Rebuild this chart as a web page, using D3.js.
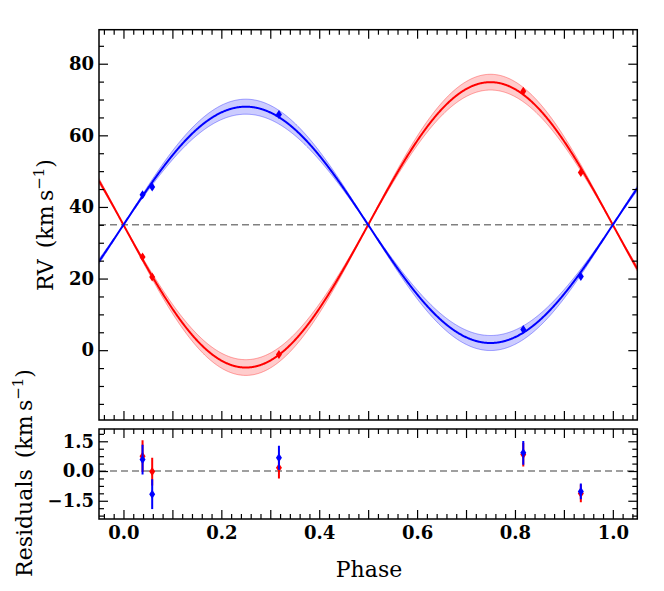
<!DOCTYPE html>
<html><head><meta charset="utf-8">
<script src="https://cdn.jsdelivr.net/npm/d3@7"></script>
<style>body{margin:0;background:#fff}</style>
</head><body>
<svg id="c" width="664" height="591" xmlns="http://www.w3.org/2000/svg"></svg>
<script>
// ---- data ----
const phase   = [0.039, 0.0587, 0.3177, 0.817, 0.9346];
const rvRed   = [26.0, 20.45, -1.2, 72.3, 49.6];
const errRed  = [0.8, 0.7, 0.55, 0.6, 0.45];
const rvBlue  = [43.4, 45.6, 65.8, 5.8, 20.6];
const errBlue = [0.75, 0.75, 0.6, 0.6, 0.4];
const resRed  = [0.75, -0.03, 0.17, 0.83, -1.13];
const resBlue = [0.58, -1.17, 0.67, 0.92, -1.03];
const gamma = 35.0;
const kRed  = [39.85, 2.2];   // semi-amplitude, uncertainty
const kBlue = [33.0, 2.1];
const xTickVals = [0, 0.1, 0.2, 0.3, 0.4, 0.5, 0.6, 0.7, 0.8, 0.9, 1.0];
const rvTickVals = [0, 20, 40, 60, 80];
const resTickVals = [-1.5, 0, 1.5];

// ---- layout ----
const svg = d3.select("#c");
const L = 99, R = 637.3, T1 = 29.7, B1 = 420, T2 = 429, B2 = 519;
const x = d3.scaleLinear().domain([-0.05, 1.05]).range([L, R]);
const y = d3.scaleLinear().domain([-19.5, 89.5]).range([B1, T1]);
const yr = d3.scaleLinear().domain([-2.42, 2.12]).range([B2, T2]);
const RED = "#ff0000", BLUE = "#0000ff";
const tickFont = "DejaVu Serif";

svg.append("defs").html(
  `<clipPath id="cp1"><rect x="${L}" y="${T1}" width="${R-L}" height="${B1-T1}"/></clipPath>
   <clipPath id="cp2"><rect x="${L}" y="${T2}" width="${R-L}" height="${B2-T2}"/></clipPath>`);

const ph = d3.range(0, 1101).map(i => -0.05 + i * 0.001);
const s = p => Math.sin(2 * Math.PI * p);

const gTop = svg.append("g").attr("clip-path", "url(#cp1)");
// dashed systemic line
gTop.append("line").attr("x1", L).attr("x2", R).attr("y1", y(gamma)).attr("y2", y(gamma))
  .attr("stroke", "#808080").attr("stroke-width", 1.5).attr("stroke-dasharray", "7,4");

function drawModel(sign, k, col) {
  const lo = p => gamma + sign * (k[0] - k[1]) * s(p);
  const hi = p => gamma + sign * (k[0] + k[1]) * s(p);
  gTop.append("path").datum(ph)
    .attr("d", d3.area().x(p => x(p)).y0(p => y(lo(p))).y1(p => y(hi(p))))
    .attr("fill", col).attr("fill-opacity", 0.2).attr("stroke", "none");
  [lo, hi].forEach(f => gTop.append("path").datum(ph)
    .attr("d", d3.line().x(p => x(p)).y(p => y(f(p))))
    .attr("fill", "none").attr("stroke", col).attr("stroke-opacity", 0.35).attr("stroke-width", 1));
  gTop.append("path").datum(ph)
    .attr("d", d3.line().x(p => x(p)).y(p => y(gamma + sign * k[0] * s(p))))
    .attr("fill", "none").attr("stroke", col).attr("stroke-width", 2);
}
drawModel(-1, kRed, RED);
drawModel(1, kBlue, BLUE);

const diamond = "M0,-4.5L3,0L0,4.5L-3,0Z";
function drawPoints(g, ys, errs, yscale, col) {
  phase.forEach((p, i) => {
    g.append("line").attr("x1", x(p)).attr("x2", x(p))
      .attr("y1", yscale(ys[i] - errs[i])).attr("y2", yscale(ys[i] + errs[i]))
      .attr("stroke", col).attr("stroke-width", 2);
    g.append("path").attr("d", diamond)
      .attr("transform", `translate(${x(p)},${yscale(ys[i])})`).attr("fill", col);
  });
}
drawPoints(gTop, rvRed, errRed, y, RED);
drawPoints(gTop, rvBlue, errBlue, y, BLUE);

// residual panel
const gBot = svg.append("g").attr("clip-path", "url(#cp2)");
gBot.append("line").attr("x1", L).attr("x2", R).attr("y1", yr(0)).attr("y2", yr(0))
  .attr("stroke", "#808080").attr("stroke-width", 1.5).attr("stroke-dasharray", "7,4");
drawPoints(gBot, resRed, errRed, yr, RED);
drawPoints(gBot, resBlue, errBlue, yr, BLUE);

// ---- axes ----
const xMinor = d3.range(-2, 53).filter(i => i % 5 !== 0).map(i => i * 0.02);
const yMinor = d3.range(-3, 18).filter(i => i % 4 !== 0).map(i => i * 5);
const rMinor = d3.range(-6, 6).filter(i => i % 4 !== 0).map(i => i * 0.375);
const fx = (d, i) => (i % 2 === 0 ? d3.format(".1f")(d) : "");

function ax(gen, tx, ty, vals, len, fmt, pad) {
  const g = svg.append("g").attr("transform", `translate(${tx},${ty})`)
    .call(gen.tickValues(vals).tickSize(-len).tickPadding(pad || 6).tickFormat(fmt || (() => "")));
  g.select(".domain").remove();
  g.selectAll("line").attr("stroke", "#000").attr("stroke-width", 1.2);
  g.selectAll("text").attr("font-family", tickFont).attr("font-weight", "bold")
    .attr("font-size", 18).attr("fill", "#000");
  return g;
}
// top panel
ax(d3.axisBottom(x), 0, B1, xTickVals, 9);
ax(d3.axisBottom(x), 0, B1, xMinor, 5);
ax(d3.axisTop(x), 0, T1, xTickVals, 9);
ax(d3.axisTop(x), 0, T1, xMinor, 5);
ax(d3.axisLeft(y), L, 0, rvTickVals, 9, d3.format("d"), 5);
ax(d3.axisLeft(y), L, 0, yMinor, 5);
ax(d3.axisRight(y), R, 0, rvTickVals, 9);
ax(d3.axisRight(y), R, 0, yMinor, 5);
// bottom panel
ax(d3.axisBottom(x), 0, B2, xTickVals, 9, fx, 7);
ax(d3.axisBottom(x), 0, B2, xMinor, 5);
ax(d3.axisTop(x), 0, T2, xTickVals, 9);
ax(d3.axisTop(x), 0, T2, xMinor, 5);
ax(d3.axisLeft(yr), L, 0, resTickVals, 9, d3.format(".1f"), 5);
ax(d3.axisLeft(yr), L, 0, rMinor, 5);
ax(d3.axisRight(yr), R, 0, resTickVals, 9);
ax(d3.axisRight(yr), R, 0, rMinor, 5);

// frames
[[T1, B1], [T2, B2]].forEach(([t, b]) =>
  svg.append("rect").attr("x", L).attr("y", t).attr("width", R - L).attr("height", b - t)
    .attr("fill", "none").attr("stroke", "#000").attr("stroke-width", 1.5));

// ---- labels ----
const labFont = "DejaVu Serif", labSize = 22;
function unitLabel(txt, cx, cy) {
  const t = svg.append("text").attr("transform", `translate(${cx},${cy}) rotate(-90)`)
    .attr("text-anchor", "middle").attr("font-family", labFont).attr("font-size", labSize).attr("fill", "#000");
  t.append("tspan").text(txt + "(km\u2009s");
  t.append("tspan").attr("font-size", 15).attr("dy", -9).text("\u22121");
  t.append("tspan").attr("dy", 9).text(")");
}
unitLabel("RV\u2002", 53, 225);
unitLabel("Residuals\u2002", 32, 473);
svg.append("text").attr("x", 369).attr("y", 577).attr("text-anchor", "middle")
  .attr("font-family", labFont).attr("font-size", labSize).attr("fill", "#000").text("Phase");
</script>
</body></html>
